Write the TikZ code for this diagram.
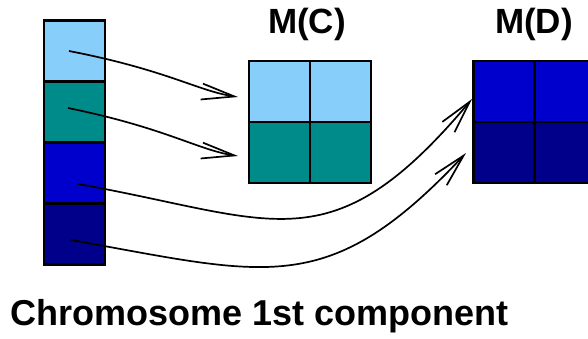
\documentclass[tikz,border=0pt]{standalone}
\usepackage{fontspec}
\setmainfont{Liberation Sans}
\usepackage{tikz}
\usetikzlibrary{arrows.meta,positioning}
\definecolor{gLight}{RGB}{135,206,250}
\definecolor{gTeal}{RGB}{0,139,139}
\definecolor{gBlue}{RGB}{0,0,205}
\definecolor{gNavy}{RGB}{0,0,139}

\begin{document}
\begin{tikzpicture}[x=1pt, y=-1pt,
    cell/.style={draw=black, line width=2.8pt, minimum size=61pt, inner sep=0pt, outer sep=0pt},
    map/.style={black, line width=1.7pt, -{Straight Barb[length=33pt, width=16pt]}},
    heading/.style={inner sep=0pt, anchor=base, font=\bfseries\fontsize{35}{40}\selectfont}]
    \useasboundingbox (0,0) rectangle (588,338);

    % Chromosome column
    \node[cell, fill=gLight] (gene1) at (74.5,51) {};
    \node[cell, fill=gTeal, below=0pt of gene1] (gene2) {};
    \node[cell, fill=gBlue, below=0pt of gene2] (gene3) {};
    \node[cell, fill=gNavy, below=0pt of gene3] (gene4) {};

    % Matrix M(C)
    \node[cell, fill=gLight] (mc11) at (279.5,91.5) {};
    \node[cell, fill=gLight, right=0pt of mc11] (mc12) {};
    \node[cell, fill=gTeal, below=0pt of mc11] (mc21) {};
    \node[cell, fill=gTeal, right=0pt of mc21] (mc22) {};
    \node[heading] (labC) at (307,33) {M(C)};

    % Matrix M(D)
    \node[cell, fill=gBlue] (md11) at (504,91.5) {};
    \node[cell, fill=gBlue, right=0pt of md11] (md12) {};
    \node[cell, fill=gNavy, below=0pt of md11] (md21) {};
    \node[cell, fill=gNavy, right=0pt of md21] (md22) {};
    \node[heading] (labD) at (534,33) {M(D)};

    % Ends of the mapping arrows
    \coordinate (src1) at (69,51);
    \coordinate (src2) at (68,108);
    \coordinate (src3) at (78,184);
    \coordinate (src4) at (71,240);
    \coordinate (dst1) at (238,97);
    \coordinate (dst2) at (238,156);
    \coordinate (dst3) at (472,99);
    \coordinate (dst4) at (466,153);

    \draw[map] (src1) .. controls (167,70) and (198,91) .. (dst1);
    \draw[map] (src2) .. controls (166,128) and (198,150) .. (dst2);
    \draw[map] (src3) .. controls (275,219) and (330,268) .. (dst3);
    \draw[map] (src4) .. controls (268,275) and (328,300) .. (dst4);

    % Caption
    \node[inner sep=0pt, anchor=base west, font=\bfseries\fontsize{36}{40}\selectfont] (caption) at (10,325) {Chromosome 1st component};
\end{tikzpicture}
\end{document}
